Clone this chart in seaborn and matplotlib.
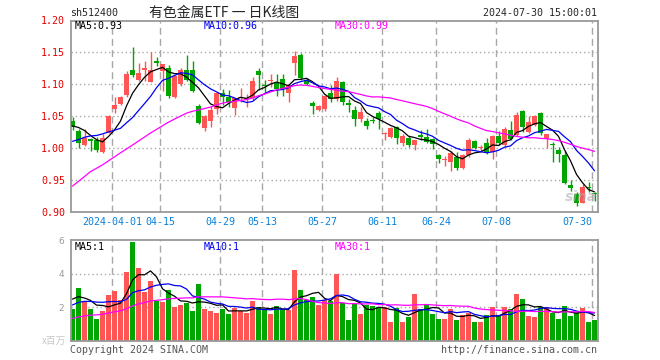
import matplotlib
matplotlib.use("Agg")
import matplotlib.pyplot as plt
import numpy as np
import pandas as pd
import seaborn as sns

# daily candles, 2024-03-21 .. 2024-07-30
open_ = [1.042, 1.026, 1.004, 1.0145, 1.013, 0.993, 1.024, 1.061, 1.069, 1.083,
         1.122, 1.107, 1.123, 1.104, 1.136, 1.120, 1.125, 1.080, 1.100, 1.122,
         1.122, 1.066, 1.031, 1.042, 1.061, 1.0855, 1.080, 1.063, 1.078, 1.076,
         1.078, 1.120, 1.099, 1.105, 1.102, 1.108, 1.086, 1.133, 1.146, 1.106,
         1.070, 1.060, 1.061, 1.086, 1.076, 1.104, 1.070, 1.059, 1.046, 1.042,
         1.0435, 1.054, 1.0215, 1.0176, 1.032, 1.007, 1.015, 1.004, 1.0196, 1.0175,
         1.0134, 0.988, 0.9805, 0.978, 0.9857, 0.968, 0.988, 1.011, 0.999, 1.007,
         0.9935, 1.019, 1.004, 1.028, 1.020, 1.058, 1.025, 1.036, 1.055, 1.014,
         1.005, 0.997, 0.988, 0.942, 0.928, 0.914, 0.939, 0.929]
high = [1.048, 1.029, 1.030, 1.016, 1.017, 1.022, 1.051, 1.080, 1.082, 1.120,
        1.159, 1.134, 1.136, 1.151, 1.143, 1.132, 1.130, 1.115, 1.125, 1.146,
        1.137, 1.069, 1.051, 1.066, 1.088, 1.092, 1.091, 1.079, 1.094, 1.085,
        1.112, 1.125, 1.106, 1.116, 1.116, 1.116, 1.101, 1.152, 1.149, 1.110,
        1.074, 1.067, 1.083, 1.098, 1.111, 1.105, 1.077, 1.066, 1.064, 1.047,
        1.049, 1.058, 1.025, 1.033, 1.034, 1.021, 1.018, 1.013, 1.028, 1.029,
        1.016, 0.990, 0.987, 0.995, 0.9935, 0.990, 1.016, 1.013, 1.004, 1.016,
        1.020, 1.027, 1.033, 1.042, 1.056, 1.060, 1.050, 1.052, 1.056, 1.022,
        1.009, 1.001, 0.995, 0.949, 0.930, 0.943, 0.946, 0.931]
low = [1.028, 1.000, 1.003, 0.995, 0.994, 0.992, 1.023, 1.055, 1.068, 1.080,
       1.112, 1.105, 1.105, 1.103, 1.129, 1.090, 1.078, 1.078, 1.097, 1.105,
       1.087, 1.037, 1.026, 1.033, 1.0525, 1.068, 1.064, 1.052, 1.072, 1.064,
       1.075, 1.091, 1.086, 1.096, 1.082, 1.082, 1.072, 1.114, 1.107, 1.098,
       1.053, 1.058, 1.058, 1.072, 1.074, 1.067, 1.057, 1.034, 1.040, 1.030,
       1.0385, 1.030, 1.013, 1.016, 1.0056, 1.003, 1.002, 0.996, 1.012, 1.007,
       0.998, 0.976, 0.9715, 0.964, 0.965, 0.966, 0.986, 0.998, 0.994, 0.990,
       0.982, 1.005, 1.002, 1.012, 1.018, 1.025, 1.023, 1.034, 1.020, 1.000,
       0.978, 0.978, 0.943, 0.932, 0.908, 0.913, 0.930, 0.917]
close = [1.032, 1.008, 1.016, 1.011, 0.997, 1.015, 1.050, 1.068, 1.080, 1.116,
         1.114, 1.118, 1.126, 1.123, 1.134, 1.131, 1.082, 1.113, 1.122, 1.107,
         1.090, 1.039, 1.050, 1.059, 1.0865, 1.080, 1.072, 1.078, 1.080, 1.078,
         1.105, 1.114, 1.097, 1.107, 1.093, 1.092, 1.099, 1.144, 1.110, 1.101,
         1.065, 1.065, 1.081, 1.077, 1.105, 1.072, 1.068, 1.046, 1.057, 1.034,
         1.042, 1.046, 1.0225, 1.0317, 1.015, 1.018, 1.004, 1.012, 1.0175, 1.0097,
         1.0055, 0.982, 0.982, 0.9925, 0.969, 0.988, 1.012, 0.999, 1.000, 0.993,
         1.019, 1.007, 1.030, 1.0135, 1.052, 1.033, 1.040, 1.050, 1.024, 1.021,
         1.004, 0.991, 0.945, 0.937, 0.914, 0.939, 0.937, 0.927]
# volume, millions
volume = [1.89, 3.14, 2.39, 1.89, 1.29, 1.79, 2.72, 2.98, 2.4, 4.1,
          5.88, 4.33, 2.92, 3.56, 2.35, 2.31, 3.04, 2.0, 2.15, 2.25,
          1.79, 3.4, 1.91, 1.79, 1.67, 1.89, 1.59, 1.95, 1.79, 1.65,
          2.39, 2.0, 1.89, 1.59, 2.07, 1.89, 1.83, 4.21, 3.02, 2.45,
          2.6, 2.13, 2.43, 2.35, 3.98, 2.25, 1.24, 2.2, 1.58, 2.14,
          2.08, 1.96, 2.0, 1.12, 1.92, 1.12, 1.42, 2.78, 1.9, 2.19,
          1.59, 1.29, 1.3, 1.88, 1.23, 1.52, 1.65, 1.12, 1.12, 1.53,
          2.02, 1.52, 2.02, 1.89, 2.78, 2.48, 1.5, 1.41, 2.02, 2.02,
          1.64, 1.29, 2.06, 1.5, 1.7, 1.96, 1.12, 1.22]

# the 29 sessions before the window, only needed for the moving averages
prior_close = [0.78, 0.79, 0.78, 0.84, 0.855, 0.86, 0.88, 0.89, 0.933, 0.93,
               0.93, 0.936, 0.933, 0.965, 0.96, 0.91, 0.97, 0.98, 0.97, 1.0,
               0.98, 0.98, 0.99, 0.99, 0.99, 1.02, 1.04, 1.05, 1.03]
prior_volume = [0.55, 0.6, 0.65, 0.6, 0.7, 0.6, 0.65, 0.7, 0.6, 0.65,
                0.7, 0.6, 0.6, 1.2, 1.3, 1.4, 1.4, 1.6, 1.7, 1.8,
                1.6, 1.8, 1.9, 1.7, 1.9, 2.4, 2.8, 2.6, 2.7]

tick_pos = [7, 15, 25, 32, 42, 52, 61, 71, 87]
tick_labels = ["2024-04-01", "04-15", "04-29", "05-13", "05-27",
               "06-11", "06-24", "07-08", "07-30"]
price_legend = ["MA5:0.93", "MA10:0.96", "MA30:0.99"]
volume_legend = ["MA5:1", "MA10:1", "MA30:1"]

RED = "#ff5555"
GREEN = "#00a600"
GRID = "#a8a8a8"
FRAME = "#999999"
MA_COLORS = ["black", "#0000f0", "#ff00ff"]
W, H = 660, 360

sns.set_style("white")
plt.rcParams["font.family"] = ["DejaVu Sans Mono", "Noto Sans CJK SC"]

df = pd.DataFrame({"idx": np.arange(len(close)), "open": open_, "high": high,
                   "low": low, "close": close, "vol": volume})
df["dir"] = np.where(df["close"] >= df["open"], "up", "down")
n0 = len(prior_close)
full_c = pd.Series(prior_close + close)
full_v = pd.Series(prior_volume + volume)
for w in (5, 10, 30):
    df[f"ma{w}"] = full_c.rolling(w).mean().iloc[n0:].to_numpy()
    df[f"vma{w}"] = full_v.rolling(w).mean().iloc[n0:].to_numpy()
colors = np.where(df["dir"] == "up", RED, GREEN)


def px(x, y):
    return x / W, 1 - y / H


fig = plt.figure(figsize=(6.6, 3.6), dpi=100)
ax = fig.add_axes([70.7 / W, 1 - 211.5 / H, 527 / W, 191 / H])
axv = fig.add_axes([70.7 / W, 1 - 340.7 / H, 527 / W, 100.7 / H])

# grid
for a, hl in ((ax, [0.95, 1.00, 1.05, 1.10, 1.15]), (axv, [2, 4])):
    for p in tick_pos:
        a.axvline(p - 0.35, color=GRID, lw=1, ls=(0, (5, 3)), zorder=0)
    for h in hl:
        a.axhline(h, color=GRID, lw=1, ls=(0, (1, 2)), zorder=0)

# candles
ax.vlines(df["idx"], df["low"], df["high"], colors=colors, lw=1, zorder=2)
body = np.maximum((df["close"] - df["open"]).abs(), 0.0016)
ax.bar(df["idx"], body, bottom=np.minimum(df["open"], df["close"]),
       width=0.78, color=colors, linewidth=0, zorder=3)
for w, c in zip((5, 10, 30), MA_COLORS):
    sns.lineplot(data=df, x="idx", y=f"ma{w}", color=c, lw=0.9, ax=ax, zorder=4)

# volume
sns.barplot(data=df, x="idx", y="vol", hue="dir", palette={"up": RED, "down": GREEN},
            native_scale=True, width=0.78, saturation=1, legend=False,
            linewidth=0, ax=axv, zorder=2)
for w, c in zip((5, 10, 30), MA_COLORS):
    sns.lineplot(data=df, x="idx", y=f"vma{w}", color=c, lw=0.9, ax=axv, zorder=4)

xlim = (-0.3, 87.53)
ax.set_xlim(*xlim)
ax.set_ylim(0.90, 1.20)
axv.set_xlim(*xlim)
axv.set_ylim(0, 6)

ax.set_yticks([0.90, 0.95, 1.00, 1.05, 1.10, 1.15, 1.20])
ax.set_yticklabels([f"{v:.2f}" for v in ax.get_yticks()])
ax.tick_params(axis="y", length=0, pad=4, labelsize=7.2, labelcolor="#e60000")
ax.set_xticks([p - 0.35 for p in tick_pos])
ax.set_xticklabels(tick_labels)
ax.tick_params(axis="x", length=0, pad=4, labelsize=7.2, labelcolor="#0a80d8")
ax.get_xticklabels()[-1].set_ha("right")

axv.set_yticks([2, 4, 6])
axv.set_yticklabels(["2", "4", "6"], family="DejaVu Sans")
axv.tick_params(axis="y", length=0, pad=5, labelsize=6.5, labelcolor="#9a9a9a")
axv.set_xticks([])

for a in (ax, axv):
    a.set_xlabel("")
    a.set_ylabel("")
    for s in a.spines.values():
        s.set_color(FRAME)
        s.set_linewidth(1.3)

# texts
mono = dict(fontsize=7.2, va="center")
fig.text(*px(70, 13), "sh512400", ha="left", **mono)
fig.text(*px(224, 13), "有色金属ETF 一 日K线图", ha="center", va="center",
         fontsize=10, family=["Noto Sans CJK SC", "DejaVu Sans"])
fig.text(*px(597, 13), "2024-07-30 15:00:01", ha="right", **mono)
for x, t, c in zip((75, 204, 335), price_legend, MA_COLORS):
    fig.text(*px(x, 26), t, ha="left", color=c, **mono)
for x, t, c in zip((75, 204, 335), volume_legend, MA_COLORS):
    fig.text(*px(x, 246.5), t, ha="left", color=c, **mono)
fig.text(*px(66, 341), "x百万", ha="right", va="center", fontsize=7, color="#c8c8c8",
         family=["Noto Sans CJK SC", "DejaVu Sans"])
fig.text(*px(70, 350), "Copyright 2024 SINA.COM", ha="left", color="#555555", **mono)
fig.text(*px(597, 350), "http://finance.sina.com.cn", ha="right", color="#555555", **mono)
fig.text(*px(581, 197), "sina", ha="center", va="center", fontsize=10, color="#b0b0b0",
         alpha=0.6, style="italic", weight="bold", family="DejaVu Sans")

fig.savefig("out.png", dpi=100)
plt.close(fig)
